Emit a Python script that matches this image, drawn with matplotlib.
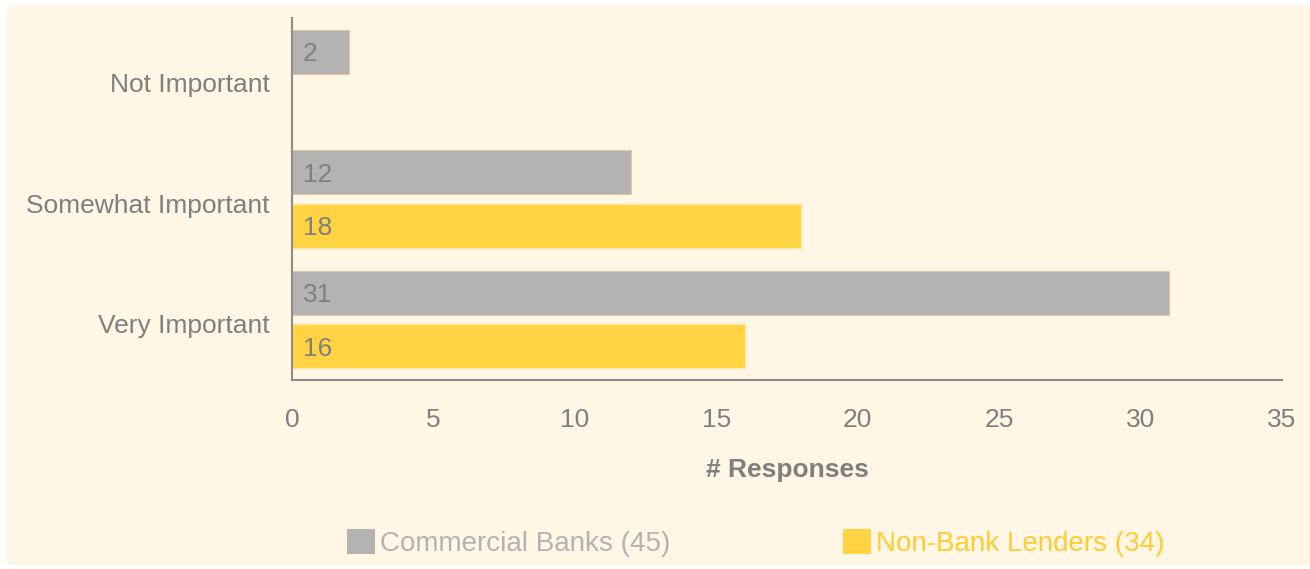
import matplotlib.pyplot as plt
import matplotlib.transforms as mtransforms
from matplotlib.patches import Rectangle, Patch

plt.rcParams['font.family'] = ['Liberation Sans', 'DejaVu Sans']

# Survey responses by importance
categories = ['Very Important', 'Somewhat Important', 'Not Important']
banks = [31, 12, 2]
non_banks = [16, 18, 0]
series_names = ['Commercial Banks (45)', 'Non-Bank Lenders (34)']

bg = '#FFF6E5'
gray = '#B3B3B2'
yellow = '#FFD342'
text_gray = '#7F7F7F'

fig = plt.figure(figsize=(13.10, 5.69), dpi=100)
fig.patch.set_facecolor('white')
fig.patches.append(Rectangle((7 / 1310, 4 / 569), 1 - 7 / 1310, 1 - 9 / 569,
                             transform=fig.transFigure, facecolor=bg,
                             edgecolor='none', zorder=-10))

ax = fig.add_axes([292 / 1310, 1 - 380 / 569, 990 / 1310, 362 / 569])
ax.set_facecolor(bg)

h = 0.365
off = 0.222
y = list(range(len(categories)))
ax.barh([v + off for v in y], banks, height=h, color=gray,
        edgecolor='#E8C4A0', linewidth=0.8)
ax.barh([v - off for v in y if non_banks[v] > 0],
        [n for n in non_banks if n > 0], height=h, color=yellow,
        edgecolor='#FFE6A0', linewidth=0.8)

# value labels inside the bars
for i in y:
    ax.text(0.38, i + off - 0.02, str(banks[i]), va='center', ha='left',
            fontsize=19, color=text_gray)
    if non_banks[i] > 0:
        ax.text(0.38, i - off - 0.02, str(non_banks[i]), va='center',
                ha='left', fontsize=19, color=text_gray)

ax.set_xlim(0, 35)
ax.set_ylim(-0.5, 2.5)
ax.set_xticks(range(0, 36, 5))
ax.set_yticks(y)
ax.set_yticklabels(categories)
ax.tick_params(axis='both', length=0, labelsize=19, colors=text_gray)
ax.tick_params(axis='x', pad=20)
ax.tick_params(axis='y', pad=16)
# nudge category labels down a little
shift = mtransforms.ScaledTranslation(0, -4 / 100, fig.dpi_scale_trans)
for lbl in ax.get_yticklabels():
    lbl.set_transform(lbl.get_transform() + shift)
for s in ['top', 'right']:
    ax.spines[s].set_visible(False)
for s in ['left', 'bottom']:
    ax.spines[s].set_color('#8C8C8C')
    ax.spines[s].set_linewidth(1.5)

ax.set_xlabel('# Responses', fontsize=19, color=text_gray,
              fontweight='bold', labelpad=19)

handles = [Patch(facecolor=gray, edgecolor='none'),
           Patch(facecolor=yellow, edgecolor='none')]
leg = fig.legend(handles, series_names, loc='center', ncol=2,
                 bbox_to_anchor=(0.577, 1 - 543 / 569), frameon=False,
                 fontsize=20, handlelength=1.0, handleheight=1.0,
                 handletextpad=0.2, columnspacing=6.2)
for t, c in zip(leg.get_texts(), [gray, '#FFCC33']):
    t.set_color(c)

fig.savefig('out.png', dpi=100, facecolor=fig.get_facecolor())
